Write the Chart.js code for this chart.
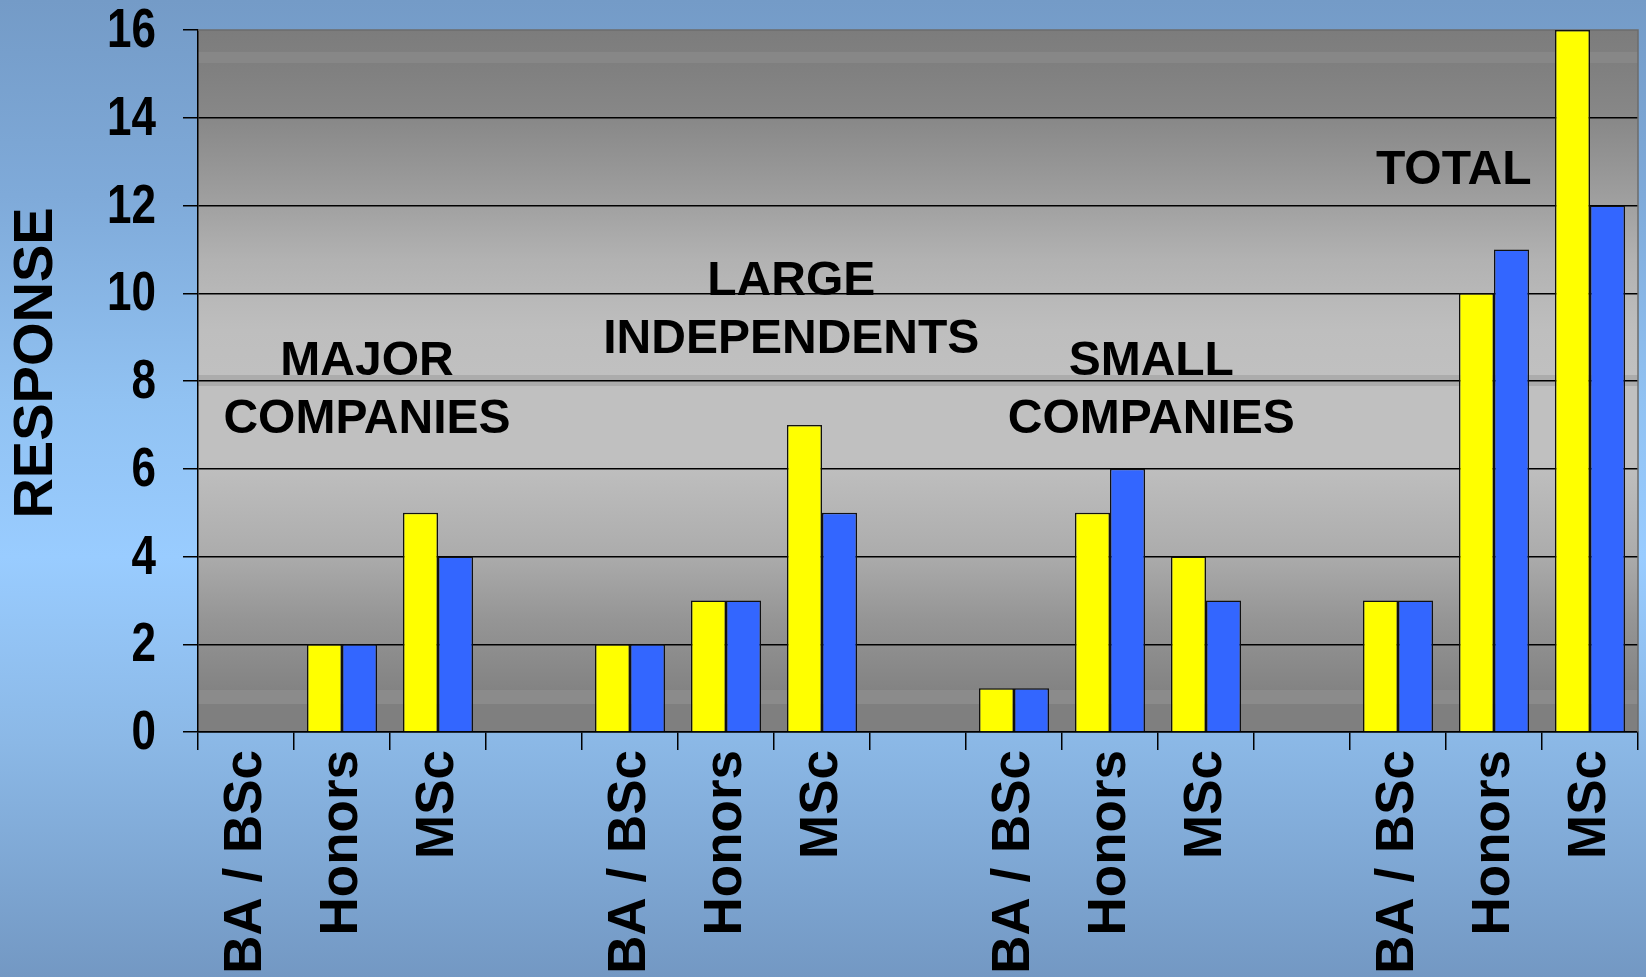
<!DOCTYPE html>
<html>
<head>
<meta charset="utf-8">
<script src="https://cdn.jsdelivr.net/npm/chart.js@4.4.1/dist/chart.umd.min.js"></script>
<style>
  html, body { margin: 0; padding: 0; overflow: hidden; background: #7fa9d6; }
  #wrap { width: 1646px; height: 977px; }
</style>
</head>
<body>
<div id="wrap"><canvas id="chart" width="1646" height="977"></canvas></div>
<script>
// Qualification categories, grouped by company type (blank slots separate the groups)
const categories = [
  'BA / BSc', 'Honors', 'MSc', '',
  'BA / BSc', 'Honors', 'MSc', '',
  'BA / BSc', 'Honors', 'MSc', '',
  'BA / BSc', 'Honors', 'MSc'
];
const yellowSeries = [0, 2, 5, null, 2, 3, 7, null, 1, 5, 4, null, 3, 10, 16];
const blueSeries   = [0, 2, 4, null, 2, 3, 5, null, 1, 6, 3, null, 3, 11, 12];
const yTickValues  = [0, 2, 4, 6, 8, 10, 12, 14, 16];
const yAxisTitle   = 'RESPONSE';
const groupTitles  = [['MAJOR', 'COMPANIES'], ['LARGE', 'INDEPENDENTS'], ['SMALL', 'COMPANIES'], ['TOTAL']];

// Where each group title sits, in axis units (category index, response value of first line)
const groupAnchors = [
  { index: 1.26, value: 8.14 },
  { index: 5.68, value: 9.96 },
  { index: 9.43, value: 8.14 },
  { index: 12.58, value: 12.49 }
];

const FONT = "'Liberation Sans', Arial, Helvetica, sans-serif";

// Page and plot-area shading
const backdrop = {
  id: 'backdrop',
  beforeDraw(chart) {
    const { ctx, width, height, chartArea: a } = chart;
    ctx.save();
    const bg = ctx.createLinearGradient(0, 0, 0, height);
    bg.addColorStop(0.00, '#749bc7');
    bg.addColorStop(0.20, '#7faad9');
    bg.addColorStop(0.41, '#91c2f2');
    bg.addColorStop(0.57, '#99ccff');
    bg.addColorStop(0.76, '#8bb8e6');
    bg.addColorStop(1.00, '#7398c3');
    ctx.fillStyle = bg;
    ctx.fillRect(0, 0, width, height);

    const h = a.bottom - a.top;
    const f = y => Math.min(1, Math.max(0, (y - 30) / 702));
    const pg = ctx.createLinearGradient(0, a.top, 0, a.bottom);
    const stops = [
      [30, '#7c7c7c'], [52, '#7f7f7f'], [52.5, '#878787'], [63, '#878787'], [63.5, '#7f7f7f'],
      [119, '#888888'], [200, '#9f9f9f'], [260, '#b2b2b2'], [330, '#bebebe'],
      [375, '#c0c0c0'], [375.5, '#acacac'], [386, '#acacac'], [386.5, '#c0c0c0'],
      [460, '#c0c0c0'], [550, '#adadad'], [620, '#959595'], [690, '#838383'],
      [690.5, '#8b8b8b'], [704, '#8b8b8b'], [704.5, '#7f7f7f'], [732, '#7f7f7f']
    ];
    stops.forEach(([y, c]) => pg.addColorStop(f(y), c));
    ctx.fillStyle = pg;
    ctx.fillRect(a.left, a.top, a.right - a.left, h);
    ctx.restore();
  },
  beforeDatasetsDraw(chart) {
    const { ctx, chartArea: a } = chart;
    ctx.save();
    ctx.strokeStyle = '#6c6c6c';
    ctx.lineWidth = 1.5;
    ctx.beginPath();
    ctx.moveTo(a.left, a.top);
    ctx.lineTo(a.right, a.top);
    ctx.lineTo(a.right, a.bottom);
    ctx.stroke();
    ctx.restore();
  }
};

// Group titles, condensed y tick numbers and the vertical axis title
const annotations = {
  id: 'annotations',
  afterDraw(chart) {
    const { ctx, scales: { x, y } } = chart;
    ctx.save();
    ctx.fillStyle = '#000';

    ctx.font = 'bold 48px ' + FONT;
    ctx.textAlign = 'center';
    ctx.textBaseline = 'alphabetic';
    groupTitles.forEach((lines, i) => {
      const px = x.getPixelForValue(groupAnchors[i].index);
      const py = y.getPixelForValue(groupAnchors[i].value);
      lines.forEach((t, j) => ctx.fillText(t, px, py + j * 58));
    });

    // tick numbers in a narrow face: horizontally condensed bold sans
    ctx.font = 'bold 55px ' + FONT;
    ctx.textAlign = 'right';
    ctx.textBaseline = 'middle';
    const labelRight = y.right - 15 - 27;
    y.ticks.forEach(t => {
      const py = y.getPixelForValue(t.value);
      ctx.save();
      ctx.translate(labelRight, py + 2);
      ctx.scale(0.8, 1);
      ctx.fillText(String(t.value), 0, 0);
      ctx.restore();
    });

    // axis title, rotated to read upwards
    ctx.font = 'bold 56px ' + FONT;
    ctx.textAlign = 'center';
    ctx.textBaseline = 'middle';
    ctx.save();
    ctx.translate(37, y.getPixelForValue(8.41));
    ctx.rotate(-Math.PI / 2);
    ctx.fillText(yAxisTitle, 0, 0);
    ctx.restore();

    ctx.restore();
  }
};

new Chart(document.getElementById('chart'), {
  type: 'bar',
  data: {
    labels: categories,
    datasets: [
      {
        label: 'Series 1',
        data: yellowSeries,
        backgroundColor: '#ffff00',
        borderColor: '#111',
        borderWidth: 1.5,
        categoryPercentage: 0.73,
        barPercentage: 1.0
      },
      {
        label: 'Series 2',
        data: blueSeries,
        backgroundColor: '#3366ff',
        borderColor: '#111',
        borderWidth: 1.5,
        categoryPercentage: 0.73,
        barPercentage: 1.0
      }
    ]
  },
  options: {
    responsive: false,
    animation: false,
    devicePixelRatio: 1,
    layout: { padding: { top: 30, right: 8, left: 0, bottom: 0 } },
    plugins: { legend: { display: false }, tooltip: { enabled: false } },
    scales: {
      x: {
        grid: {
          display: true, drawOnChartArea: false, drawTicks: true,
          tickLength: 18, color: '#000', lineWidth: 1.5, offset: true
        },
        border: { display: true, color: '#000', width: 1.5 },
        ticks: {
          autoSkip: false, maxRotation: 90, minRotation: 90, padding: 0,
          color: '#000', font: { family: FONT, size: 53, weight: 'bold' }
        },
        afterFit(s) {
          s.height = 245;
          s.paddingLeft = 0;
          s.paddingRight = 0;
        }
      },
      y: {
        min: 0, max: 16,
        afterBuildTicks(s) { s.ticks = yTickValues.map(v => ({ value: v })); },
        grid: {
          color: c => (c.tick && c.tick.value === 16) ? 'rgba(0,0,0,0)' : '#000',
          tickColor: '#000', lineWidth: 1.5, tickLength: 15
        },
        border: { display: true, color: '#000', width: 1.5 },
        ticks: {
          padding: 27, color: 'rgba(0,0,0,0)',
          font: { family: FONT, size: 55, weight: 'bold' }
        },
        title: { display: false, text: yAxisTitle },
        afterFit(s) {
          s.width = 198;
          s.paddingTop = 0;
          s.paddingBottom = 0;
        }
      }
    }
  },
  plugins: [backdrop, annotations]
});
</script>
</body>
</html>
